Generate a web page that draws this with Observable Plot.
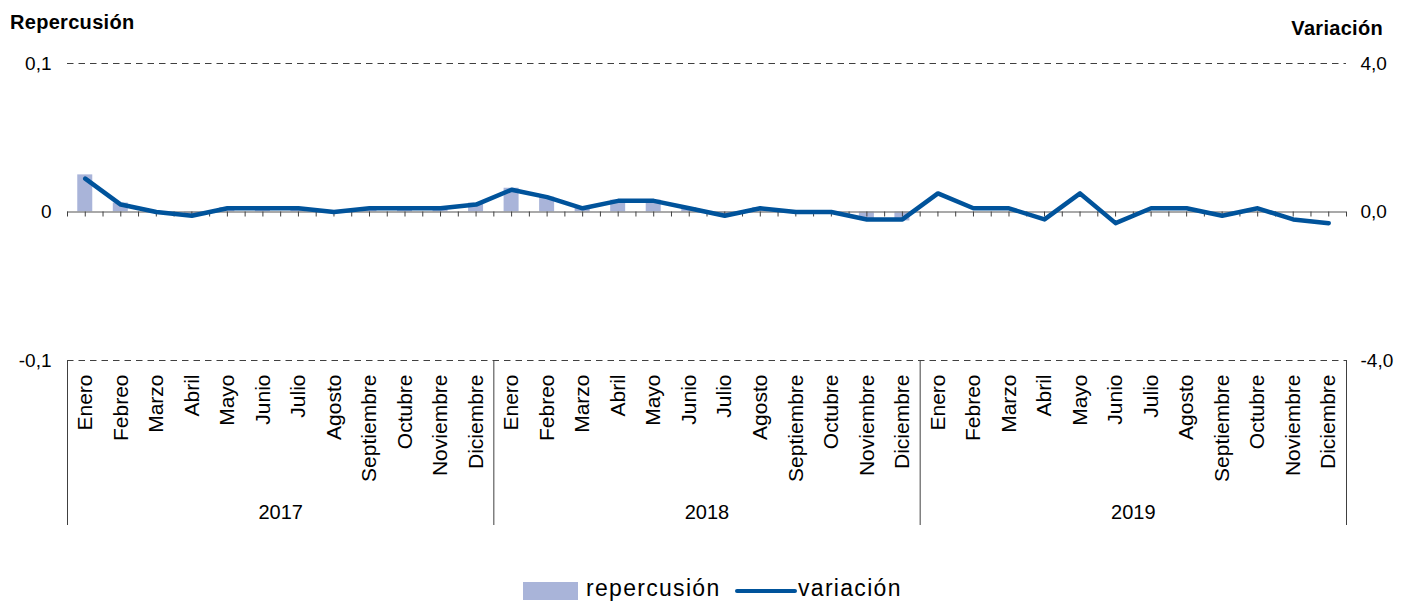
<!DOCTYPE html>
<html>
<head>
<meta charset="utf-8">
<script src="https://cdn.jsdelivr.net/npm/d3@7"></script>
<script src="https://cdn.jsdelivr.net/npm/@observablehq/plot@0.6"></script>
<style>
  body { margin: 0; background: #fff; font-family: "Liberation Sans", Arial, sans-serif; }
  #wrap { position: relative; width: 1401px; height: 603px; }
  .ttl { position: absolute; font-weight: bold; font-size: 20px; line-height: 20px; letter-spacing: 0.3px; color: #000; }
  #legend { position: absolute; left: 0; top: 560px; width: 1401px; height: 43px; }
  #legend .sw { position: absolute; }
  #legend .lt { position: absolute; font-size: 23px; line-height: 23px; letter-spacing: 1.3px; color: #000; }
</style>
</head>
<body>
<div id="wrap">
  <div id="chart"></div>
  <div class="ttl" style="left:10px; top:12px;">Repercusión</div>
  <div class="ttl" style="right:18px; top:18px;">Variación</div>
  <div id="legend"></div>
</div>
<script>
// ---- data ----
const years = [2017, 2018, 2019];
const months = ["Enero", "Febreo", "Marzo", "Abril", "Mayo", "Junio", "Julio", "Agosto",
                "Septiembre", "Octubre", "Noviembre", "Diciembre"];
const repercusion2017 = [0.025, 0.006, 0.000, -0.003, 0.003, 0.003, 0.003, 0.000, 0.003, 0.003, 0.003, 0.006];
const repercusion2018 = [0.016, 0.010, 0.003, 0.008, 0.008, 0.003, -0.003, 0.003, 0.000, 0.000, -0.005, -0.006];
const repercusion2019 = [0.000, 0.000, 0.000, 0.000, 0.000, 0.000, 0.000, 0.000, 0.000, 0.000, 0.000, 0.000];
const variacion2017 = [0.9, 0.2, 0.0, -0.1, 0.1, 0.1, 0.1, 0.0, 0.1, 0.1, 0.1, 0.2];
const variacion2018 = [0.6, 0.4, 0.1, 0.3, 0.3, 0.1, -0.1, 0.1, 0.0, 0.0, -0.2, -0.2];
const variacion2019 = [0.5, 0.1, 0.1, -0.2, 0.5, -0.3, 0.1, 0.1, -0.1, 0.1, -0.2, -0.3];
const leftTicks = [-0.1, 0, 0.1];
const legendLabels = ["repercusión", "variación"];

// ---- table ----
const repByYear = [repercusion2017, repercusion2018, repercusion2019];
const varByYear = [variacion2017, variacion2018, variacion2019];
const data = [];
years.forEach((y, yi) => months.forEach((m, mi) => {
  data.push({key: `${y}-${mi}`, year: y, month: m, rep: repByYear[yi][mi], vari: varByYear[yi][mi]});
}));
const keys = data.map(d => d.key);
const monthOf = new Map(data.map(d => [d.key, d.month]));

// right axis: variación ±4 maps onto repercusión ±0.1
const ratio = 0.1 / 4;

const W = 1401, H = 560, mL = 67, mR = 55, mT = 63, mB = 200;
const bw = (W - mL - mR) / keys.length;
const lineColor = "#00539b";
const barColor = "#a9b4d9";

const chart = Plot.plot({
  width: W, height: H,
  marginLeft: mL, marginRight: mR, marginTop: mT, marginBottom: mB,
  style: {fontFamily: "Liberation Sans, Arial, sans-serif", fontSize: "19px", color: "#000", background: "#fff", overflow: "visible"},
  x: {domain: keys, padding: 0, round: false},
  y: {domain: [-0.1, 0.1]},
  marks: [
    Plot.ruleY([-0.1, 0.1], {stroke: "#404040", strokeWidth: 1, strokeDasharray: "6.5,5"}),
    Plot.barY(data, {x: "key", y: "rep", fill: barColor, insetLeft: (bw - 15) / 2, insetRight: (bw - 15) / 2}),
    Plot.ruleY([0], {stroke: "#8c8c8c", strokeWidth: 1.5}),
    Plot.ruleX(keys, {x: d => d, y1: 0, y2: 0, insetBottom: -5, stroke: "#404040"}),
    Plot.ruleX(keys, {x: d => d, y1: 0, y2: 0, insetBottom: -5, dx: -bw / 2, stroke: "#404040"}),
    Plot.ruleX(keys.slice(-1), {x: d => d, y1: 0, y2: 0, insetBottom: -5, dx: bw / 2, stroke: "#404040"}),
    Plot.ruleX(years, {x: y => `${y}-0`, y1: -0.1, y2: -0.1, insetBottom: -165, dx: -bw / 2, stroke: "#404040"}),
    Plot.ruleX(keys.slice(-1), {x: d => d, y1: -0.1, y2: -0.1, insetBottom: -165, dx: bw / 2, stroke: "#404040"}),
    Plot.line(data, {x: "key", y: d => d.vari * ratio, stroke: lineColor, strokeWidth: 4.5, strokeLinejoin: "round", strokeLinecap: "round"}),
    Plot.axisY({anchor: "left", ticks: leftTicks, tickSize: 0, tickPadding: 16, label: null,
      tickFormat: d => d === 0 ? "0" : String(d).replace(".", ",")}),
    Plot.axisY({anchor: "right", ticks: leftTicks, tickSize: 0, tickPadding: 14, label: null,
      tickFormat: d => (d / ratio).toFixed(1).replace(".", ",")}),
    Plot.axisX({anchor: "bottom", tickSize: 0, tickPadding: 14, tickRotate: -90, label: null, fontSize: 21,
      tickFormat: k => monthOf.get(k)}),
    Plot.text(years, {x: y => `${y}-5`, dx: bw / 2, y: -0.1, dy: 152, text: y => String(y), fontSize: 20, fill: "#000"})
  ]
});
document.getElementById("chart").appendChild(chart);

// legend
const lg = document.getElementById("legend");
lg.innerHTML = `
  <div class="sw" style="left:523px; top:22px; width:55px; height:18px; background:${barColor};"></div>
  <div class="lt" style="left:586px; top:17px;">${legendLabels[0]}</div>
  <div class="sw" style="left:735px; top:29px; width:62px; height:4px; background:${lineColor}; border-radius:2px;"></div>
  <div class="lt" style="left:798px; top:17px;">${legendLabels[1]}</div>
`;
</script>
</body>
</html>
